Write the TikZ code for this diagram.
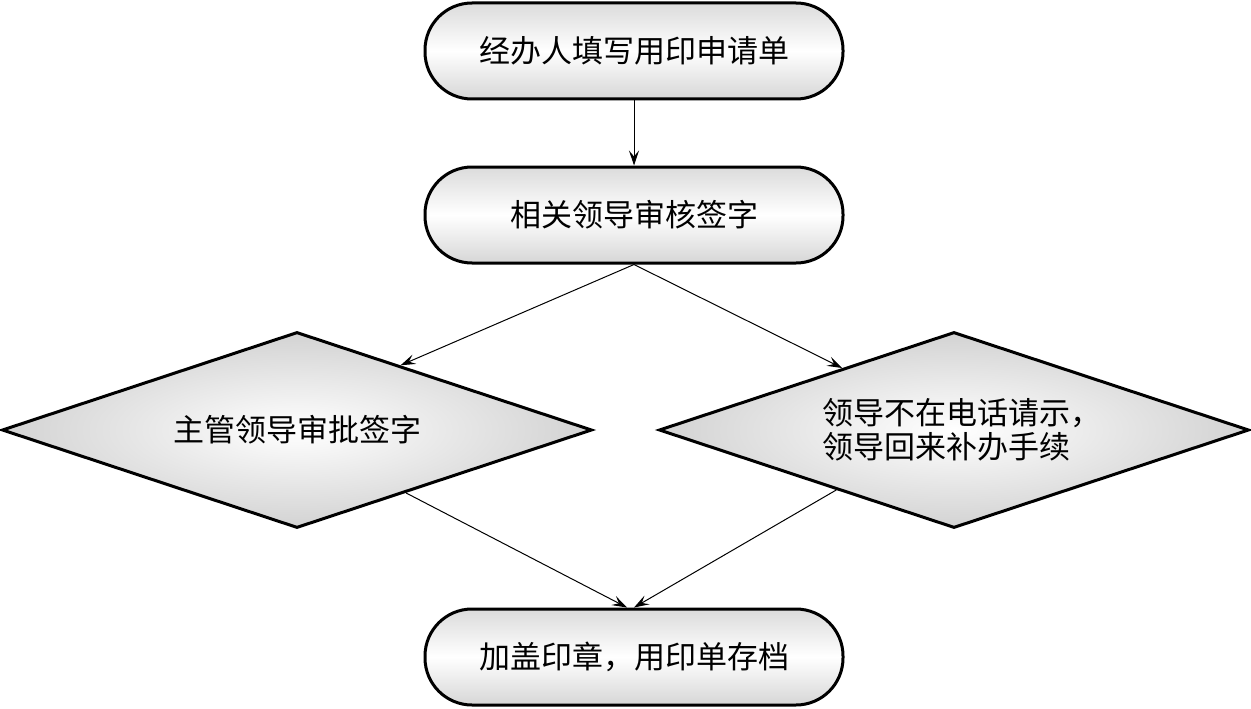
\documentclass[tikz,border=0pt]{standalone}
\usepackage{fontspec}
\newfontfamily\cjk{Noto Sans CJK SC}
\usetikzlibrary{shapes.geometric,arrows.meta}
\tikzset{
  termbox/.style={draw=black, line width=3pt, rounded corners=47pt,
    minimum width=418pt, minimum height=96pt, inner sep=0pt,
    top color=gray!28, bottom color=gray!32, middle color=white,
    font=\cjk\fontsize{31}{34}\selectfont},
  decbox/.style={diamond, draw=black, line width=3pt, aspect=3,
    minimum width=590pt, minimum height=196pt, inner sep=0pt,
    inner color=white, outer color=gray!35, align=left,
    font=\cjk\fontsize{31}{34}\selectfont},
  conn/.style={line width=1pt, -{Stealth[length=15pt,width=10pt,inset=6pt]}}
}
\begin{document}
\begin{tikzpicture}[x=1pt,y=-1pt]
\useasboundingbox (0,0) rectangle (1251,709);
\node[termbox] (a) at (634,51) {经办人填写用印申请单};
\node[termbox] (b) at (634,215) {相关领导审核签字};
\node[decbox] (ld) at (297,430) {主管领导审批签字};
\node[decbox] (rd) at (954,430) {领导不在电话请示\makebox[0.5em][l]{，}\\领导回来补办手续};
\node[termbox] (d) at (634,657) {加盖印章，用印单存档};
\draw[conn] (a.south) -- (b.north);
\draw[conn] (b.south) -- (ld.32);
\draw[conn] (b.south) -- (rd.151);
\draw[conn] (ld.-30) -- ([xshift=-7pt]d.north);
\draw[conn] (rd.207) -- (d.north);
\end{tikzpicture}
\end{document}
